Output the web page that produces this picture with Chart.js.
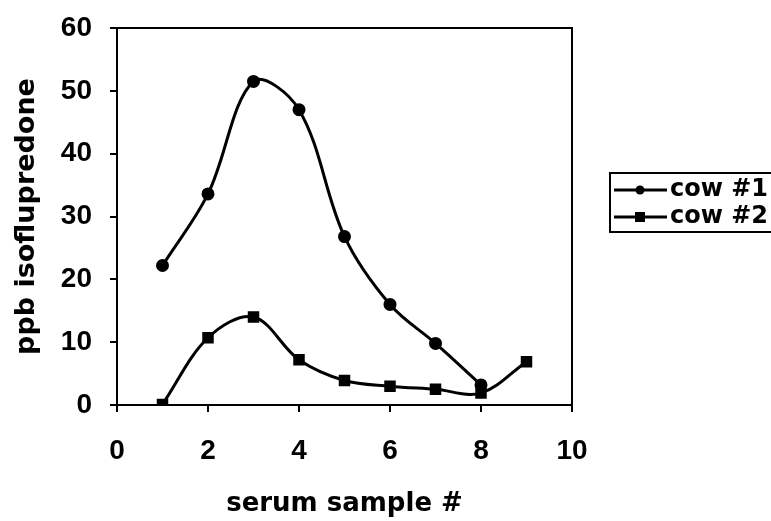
<!DOCTYPE html>
<html>
<head>
<meta charset="utf-8">
<script src="https://cdn.jsdelivr.net/npm/chart.js@4"></script>
<style>
  html, body { margin: 0; padding: 0; background: #fff; }
  #wrap { width: 771px; height: 521px; }
</style>
</head>
<body>
<div id="wrap"><canvas id="chart" width="771" height="521"></canvas></div>
<script>
const sampleNumbers = [1, 2, 3, 4, 5, 6, 7, 8, 9];
const cow1Values = [22.2, 33.6, 51.5, 47.0, 26.8, 16.0, 9.8, 3.2];
const cow2Values = [0.1, 10.7, 14.0, 7.2, 3.9, 3.0, 2.5, 1.9, 6.9];
const seriesNames = ['cow #1', 'cow #2'];
const xTicks = [0, 2, 4, 6, 8, 10];
const yTicks = [0, 10, 20, 30, 40, 50, 60];

const tickFont = '"Liberation Sans", Arial, sans-serif';
const titleFont = '"DejaVu Sans", sans-serif';

function toPoints(values) {
  return values.map((v, i) => ({ x: sampleNumbers[i], y: v }));
}

// box round the plot area plus the boxed legend on the right
const framePlugin = {
  id: 'frame',
  afterDraw(chart) {
    const { ctx, chartArea } = chart;
    ctx.save();
    ctx.strokeStyle = '#000';
    ctx.lineWidth = 2;
    ctx.strokeRect(chartArea.left, chartArea.top, chartArea.right - chartArea.left, chartArea.bottom - chartArea.top);

    const bx = 610, by = 173, bw = 170, bh = 59;
    ctx.strokeRect(bx, by, bw, bh);
    ctx.font = 'bold 24px ' + titleFont;
    ctx.textBaseline = 'middle';
    ctx.fillStyle = '#000';
    chart.data.datasets.forEach((ds, i) => {
      const y = by + 17 + i * 27;
      ctx.beginPath();
      ctx.lineWidth = 3;
      ctx.moveTo(bx + 4, y);
      ctx.lineTo(bx + 57, y);
      ctx.stroke();
      ctx.beginPath();
      if (ds.pointStyle === 'rect') {
        ctx.fillRect(bx + 25, y - 5, 10, 10);
      } else {
        ctx.arc(bx + 30, y, 4.5, 0, Math.PI * 2);
        ctx.fill();
      }
      ctx.fillText(ds.label, bx + 60, y);
    });
    ctx.restore();
  }
};

const ctx = document.getElementById('chart').getContext('2d');
new Chart(ctx, {
  type: 'line',
  data: {
    datasets: [
      {
        label: seriesNames[0],
        data: toPoints(cow1Values),
        borderColor: '#000',
        backgroundColor: '#000',
        borderWidth: 3,
        pointStyle: 'circle',
        pointRadius: 5,
        tension: 0.35,
        fill: false,
      },
      {
        label: seriesNames[1],
        data: toPoints(cow2Values),
        borderColor: '#000',
        backgroundColor: '#000',
        borderWidth: 3,
        pointStyle: 'rect',
        pointRadius: 6,
        tension: 0.35,
        fill: false,
      },
    ],
  },
  options: {
    responsive: false,
    animation: false,
    layout: { padding: { top: 28, right: 199, left: 0, bottom: 0 } },
    plugins: {
      legend: { display: false },
      tooltip: { enabled: false },
    },
    scales: {
      x: {
        type: 'linear',
        min: 0,
        max: 10,
        afterBuildTicks(scale) {
          scale.ticks = xTicks.map((v) => ({ value: v }));
        },
        afterFit(scale) {
          scale.height = 116;
        },
        grid: { drawOnChartArea: false, drawTicks: true, tickLength: 7, color: '#000', lineWidth: 2 },
        border: { display: true, color: '#000', width: 2 },
        ticks: {
          color: '#000',
          padding: 22,
          font: { family: tickFont, size: 28, weight: 'bold' },
        },
        title: {
          display: true,
          text: 'serum sample #',
          color: '#000',
          padding: { top: 0, bottom: 1 },
          font: { family: titleFont, size: 26, weight: 'bold' },
        },
      },
      y: {
        min: 0,
        max: 60,
        afterBuildTicks(scale) {
          scale.ticks = yTicks.map((v) => ({ value: v }));
        },
        afterFit(scale) {
          scale.width = 117;
          scale.paddingTop = 0;
          scale.paddingBottom = 0;
        },
        grid: { drawOnChartArea: false, drawTicks: true, tickLength: 7, color: '#000', lineWidth: 2 },
        border: { display: true, color: '#000', width: 2 },
        ticks: {
          color: '#000',
          padding: 18,
          font: { family: tickFont, size: 28, weight: 'bold' },
        },
        title: {
          display: true,
          text: 'ppb isoflupredone',
          color: '#000',
          padding: { top: 11, bottom: 0 },
          font: { family: titleFont, size: 27, weight: 'bold' },
        },
      },
    },
  },
  plugins: [framePlugin],
});
</script>
</body>
</html>
